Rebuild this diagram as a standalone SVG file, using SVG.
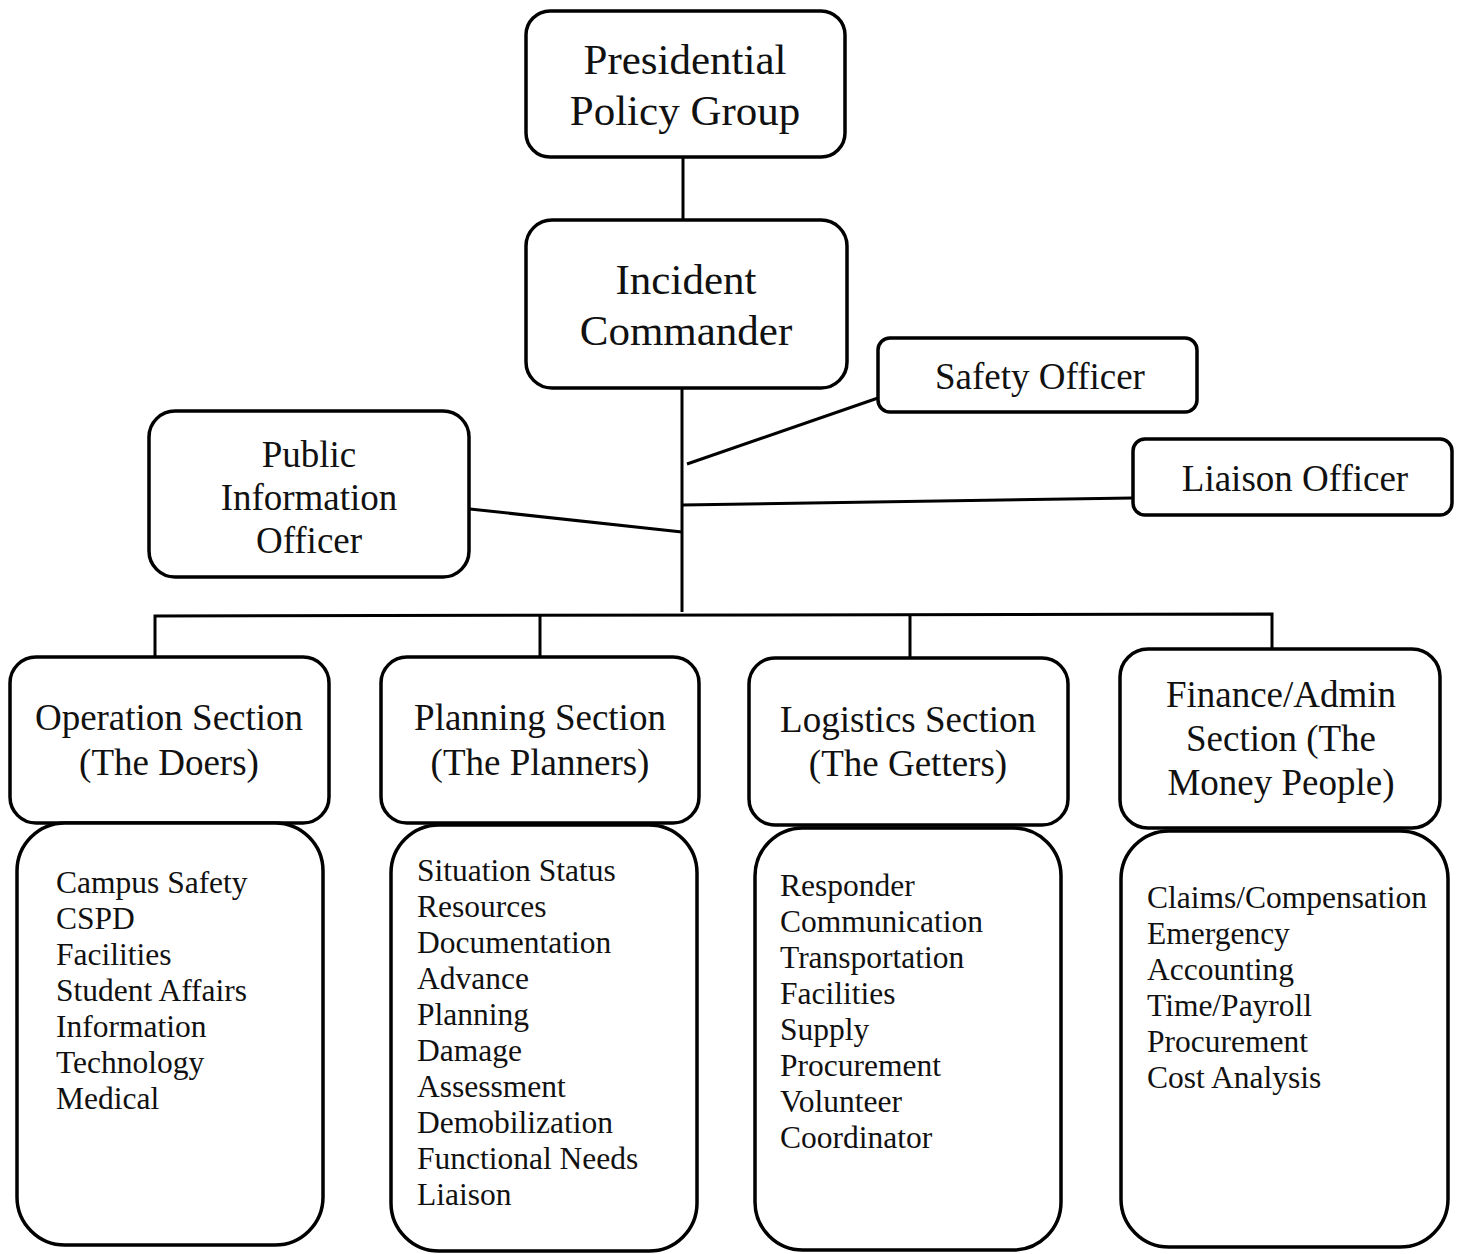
<svg xmlns="http://www.w3.org/2000/svg" width="1460" height="1254" viewBox="0 0 1460 1254">
<style>
.box{fill:#fff;stroke:#000;stroke-width:3.5}
.ln{fill:none;stroke:#000;stroke-width:3}
.t{font-family:"Liberation Serif","Times New Roman",serif;fill:#111;text-anchor:middle}
.big{font-size:43px}
.mid{font-size:37px}
.it{font-family:"Liberation Serif","Times New Roman",serif;fill:#111;font-size:31.5px}
</style>
<rect width="1460" height="1254" fill="#fff"/>
<g id="connectors">
<line class="ln" x1="683" y1="157" x2="683" y2="220"/>
<line class="ln" x1="682" y1="388" x2="682" y2="612"/>
<line class="ln" x1="878" y1="398" x2="687" y2="464"/>
<line class="ln" x1="1133" y1="498" x2="682" y2="505"/>
<line class="ln" x1="470" y1="509" x2="682" y2="532"/>
<polyline class="ln" points="155,657 155,616 1272,614 1272,649"/>
<line class="ln" x1="540" y1="615" x2="540" y2="657"/>
<line class="ln" x1="910" y1="615" x2="910" y2="658"/>
</g>
<g id="presidential">
<rect class="box" x="526" y="11" width="319" height="146" rx="24"/>
<text class="t big" x="685" y="74">Presidential</text>
<text class="t big" x="685" y="125">Policy Group</text>
</g>
<g id="incident">
<rect class="box" x="526" y="220" width="321" height="168" rx="26"/>
<text class="t big" x="686" y="294">Incident</text>
<text class="t big" x="686" y="345">Commander</text>
</g>
<g id="safety">
<rect class="box" x="878" y="338" width="319" height="74" rx="12"/>
<text class="t mid" x="1040" y="389">Safety Officer</text>
</g>
<g id="liaison">
<rect class="box" x="1133" y="439" width="319" height="76" rx="12"/>
<text class="t mid" x="1295" y="491">Liaison Officer</text>
</g>
<g id="pio">
<rect class="box" x="149" y="411" width="320" height="166" rx="26"/>
<text class="t mid" x="309" y="467">Public</text>
<text class="t mid" x="309" y="510">Information</text>
<text class="t mid" x="309" y="553">Officer</text>
</g>
<g id="operation">
<rect class="box" x="10" y="657" width="319" height="166" rx="26"/>
<text class="t mid" x="169" y="730">Operation Section</text>
<text class="t mid" x="169" y="775">(The Doers)</text>
</g>
<g id="operation-list">
<rect class="box" x="17" y="823" width="306" height="422" rx="48"/>
<text class="it" x="56" y="893">Campus Safety</text>
<text class="it" x="56" y="929">CSPD</text>
<text class="it" x="56" y="965">Facilities</text>
<text class="it" x="56" y="1001">Student Affairs</text>
<text class="it" x="56" y="1037">Information</text>
<text class="it" x="56" y="1073">Technology</text>
<text class="it" x="56" y="1109">Medical</text>
</g>
<g id="planning">
<rect class="box" x="381" y="657" width="318" height="166" rx="26"/>
<text class="t mid" x="540" y="730">Planning Section</text>
<text class="t mid" x="540" y="775">(The Planners)</text>
</g>
<g id="planning-list">
<rect class="box" x="391" y="825" width="306" height="426" rx="48"/>
<text class="it" x="417" y="881">Situation Status</text>
<text class="it" x="417" y="917">Resources</text>
<text class="it" x="417" y="953">Documentation</text>
<text class="it" x="417" y="989">Advance</text>
<text class="it" x="417" y="1025">Planning</text>
<text class="it" x="417" y="1061">Damage</text>
<text class="it" x="417" y="1097">Assessment</text>
<text class="it" x="417" y="1133">Demobilization</text>
<text class="it" x="417" y="1169">Functional Needs</text>
<text class="it" x="417" y="1205">Liaison</text>
</g>
<g id="logistics">
<rect class="box" x="749" y="658" width="319" height="167" rx="26"/>
<text class="t mid" x="908" y="732">Logistics Section</text>
<text class="t mid" x="908" y="776">(The Getters)</text>
</g>
<g id="logistics-list">
<rect class="box" x="755" y="828" width="306" height="422" rx="48"/>
<text class="it" x="780" y="896">Responder</text>
<text class="it" x="780" y="932">Communication</text>
<text class="it" x="780" y="968">Transportation</text>
<text class="it" x="780" y="1004">Facilities</text>
<text class="it" x="780" y="1040">Supply</text>
<text class="it" x="780" y="1076">Procurement</text>
<text class="it" x="780" y="1112">Volunteer</text>
<text class="it" x="780" y="1148">Coordinator</text>
</g>
<g id="finance">
<rect class="box" x="1120" y="649" width="320" height="179" rx="28"/>
<text class="t mid" x="1281" y="707">Finance/Admin</text>
<text class="t mid" x="1281" y="751">Section (The</text>
<text class="t mid" x="1281" y="795">Money People)</text>
</g>
<g id="finance-list">
<rect class="box" x="1121" y="831" width="327" height="416" rx="48"/>
<text class="it" x="1147" y="908">Claims/Compensation</text>
<text class="it" x="1147" y="944">Emergency</text>
<text class="it" x="1147" y="980">Accounting</text>
<text class="it" x="1147" y="1016">Time/Payroll</text>
<text class="it" x="1147" y="1052">Procurement</text>
<text class="it" x="1147" y="1088">Cost Analysis</text>
</g>
</svg>
